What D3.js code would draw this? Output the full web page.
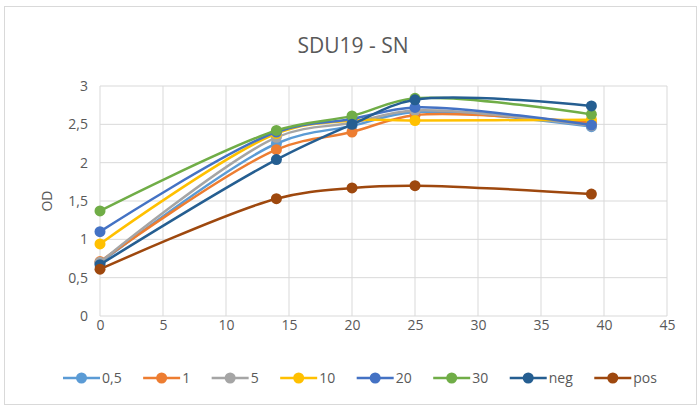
<!DOCTYPE html>
<html><head><meta charset="utf-8">
<script src="https://cdn.jsdelivr.net/npm/d3@7/dist/d3.min.js"></script>
<style>body{margin:0;background:#fff}svg{display:block}text{font-family:"Open Sans",sans-serif;fill:#595959}</style>
</head><body><svg id="c" width="699" height="409"></svg>
<script>
const times = [0, 14, 20, 25, 39];
const seriesNames = ["0,5", "1", "5", "10", "20", "30", "neg", "pos"];
const colors = ["#5B9BD5", "#ED7D31", "#A5A5A5", "#FFC000", "#4472C4", "#70AD47", "#255E91", "#9E480E"];
const v05 = [0.69, 2.25, 2.48, 2.66, 2.47];
const v1 = [0.71, 2.17, 2.40, 2.62, 2.52];
const v5 = [0.70, 2.33, 2.52, 2.68, 2.48];
const v10 = [0.94, 2.38, 2.55, 2.55, 2.56];
const v20 = [1.10, 2.40, 2.57, 2.72, 2.49];
const v30 = [1.37, 2.42, 2.61, 2.84, 2.63];
const vneg = [0.67, 2.04, 2.50, 2.82, 2.74];
const vpos = [0.61, 1.53, 1.67, 1.70, 1.59];
const xTicks = [0, 5, 10, 15, 20, 25, 30, 35, 40, 45];
const yTicks = [0, 0.5, 1, 1.5, 2, 2.5, 3];
const title = "SDU19 - SN";
const yTitle = "OD";

const values = [v05, v1, v5, v10, v20, v30, vneg, vpos];
const svg = d3.select("#c");
svg.append("rect").attr("x", 4.5).attr("y", 6.5).attr("width", 692).attr("height", 398)
  .attr("fill", "#fff").attr("stroke", "#D9D9D9");

const x = d3.scaleLinear().domain([0, 45]).range([100, 667]);
const y = d3.scaleLinear().domain([0, 3]).range([316, 86]);
const fmt = d => String(d).replace(".", ",");

const g = svg.append("g");
g.selectAll(".hg").data(yTicks).join("line")
  .attr("x1", x(0)).attr("x2", x(45)).attr("y1", d => y(d)).attr("y2", d => y(d))
  .attr("stroke", "#D9D9D9").attr("stroke-width", 1);
g.selectAll(".vg").data(xTicks).join("line")
  .attr("y1", y(0)).attr("y2", y(3)).attr("x1", d => x(d)).attr("x2", d => x(d))
  .attr("stroke", "#D9D9D9").attr("stroke-width", 1);

const yAxis = d3.axisLeft(y).tickValues(yTicks).tickFormat(fmt).tickSize(0).tickPadding(12);
svg.append("g").attr("transform", `translate(${x(0)},0)`).call(yAxis)
  .call(a => a.select(".domain").remove())
  .selectAll("text").style("font-size", "14px").attr("fill", "#595959").style("font-family", '"Open Sans",sans-serif');
const xAxis = d3.axisBottom(x).tickValues(xTicks).tickFormat(fmt).tickSize(0).tickPadding(4);
svg.append("g").attr("transform", `translate(0,${y(0)})`).call(xAxis)
  .call(a => a.select(".domain").remove())
  .selectAll("text").style("font-size", "14px").attr("fill", "#595959").style("font-family", '"Open Sans",sans-serif');

svg.append("text").attr("x", 353).attr("y", 53).attr("text-anchor", "middle")
  .style("font-size", "21px").text(title);
svg.append("text").attr("transform", "translate(52,201) rotate(-90)").attr("text-anchor", "middle")
  .style("font-size", "14px").text(yTitle);

const line = d3.line().x(d => x(d[0])).y(d => y(d[1])).curve(d3.curveCatmullRom.alpha(0.5));
values.forEach((vals, i) => {
  const pts = times.map((t, j) => [t, vals[j]]);
  const sg = svg.append("g");
  sg.append("path").attr("d", line(pts)).attr("fill", "none")
    .attr("stroke", colors[i]).attr("stroke-width", 2.5).attr("stroke-linecap", "round");
  sg.selectAll("circle").data(pts).join("circle")
    .attr("cx", d => x(d[0])).attr("cy", d => y(d[1])).attr("r", 5.5).attr("fill", colors[i]);
});

// legend
const lg = svg.append("g");
const ly = 378;
let cx = 63;
seriesNames.forEach((n, i) => {
  const it = lg.append("g");
  it.append("line").attr("x1", cx).attr("x2", cx + 37).attr("y1", ly).attr("y2", ly)
    .attr("stroke", colors[i]).attr("stroke-width", 2.5);
  it.append("circle").attr("cx", cx + 18.5).attr("cy", ly).attr("r", 5.5).attr("fill", colors[i]);
  const t = it.append("text").attr("x", cx + 39).attr("y", ly + 5).style("font-size", "14px").text(n);
  cx += 39 + t.node().getComputedTextLength() + 21.5;
});
</script></body></html>
